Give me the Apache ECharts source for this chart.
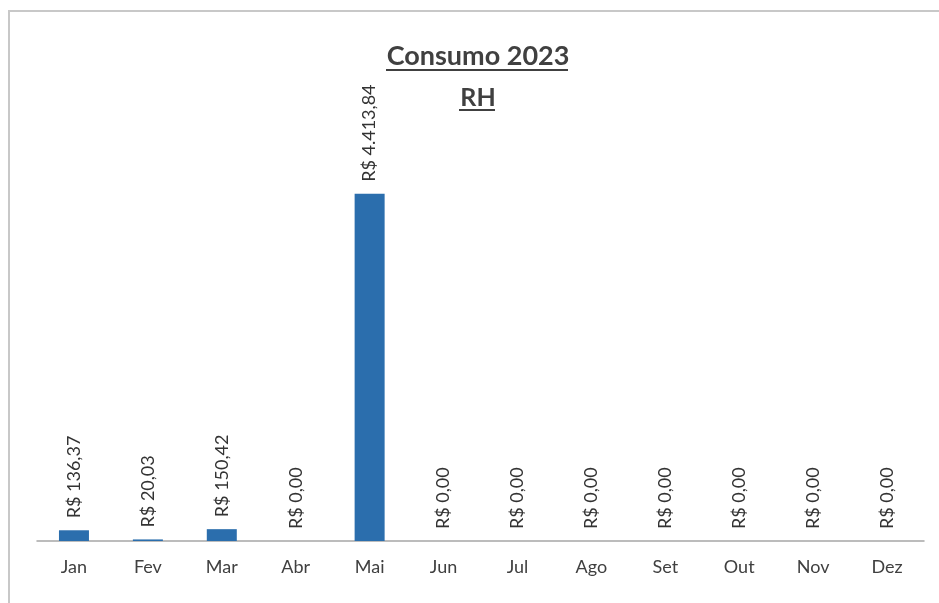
<!DOCTYPE html>
<html>
<head>
<meta charset="utf-8">
<script src="https://cdn.jsdelivr.net/npm/echarts@6/dist/echarts.min.js"></script>
<style>
  html, body { margin: 0; padding: 0; background: #fff; }
  #chart { width: 939px; height: 603px; }
</style>
</head>
<body>
<div id="chart"></div>
<script>
var months = ['Jan', 'Fev', 'Mar', 'Abr', 'Mai', 'Jun', 'Jul', 'Ago', 'Set', 'Out', 'Nov', 'Dez'];
var consumo = [136.37, 20.03, 150.42, 0, 4413.84, 0, 0, 0, 0, 0, 0, 0];

function brl(v) {
    var parts = v.toFixed(2).split('.');
    var inteiro = parts[0].replace(/\B(?=(\d{3})+(?!\d))/g, '.');
    return 'R$ ' + inteiro + ',' + parts[1];
}

(function () {
    var myChart = echarts.init(document.querySelector('#chart'));
    myChart.setOption({
        animation: false,
        title: {
            text: 'Consumo 2023',
            subtext: 'RH',
            left: 473,
            textAlign: 'center',
            top: 38,
            itemGap: 15,
            textStyle: {
                fontFamily: 'Lato',
                fontWeight: 'bold',
                fontSize: 27,
                color: '#404040'
            },
            subtextStyle: {
                fontFamily: 'Lato',
                fontWeight: 'bold',
                fontSize: 25,
                color: '#404040'
            }
        },
        graphic: [
            // moldura do gráfico
            { type: 'polyline', shape: { points: [[9, 603], [9, 11], [939, 11]] },
              style: { stroke: '#c8c8c8', lineWidth: 2, fill: null } },
            // sublinhados do título
            { type: 'line', shape: { x1: 386, y1: 70, x2: 568, y2: 70 },
              style: { stroke: '#404040', lineWidth: 2 } },
            { type: 'line', shape: { x1: 459, y1: 110, x2: 495, y2: 110 },
              style: { stroke: '#404040', lineWidth: 2 } }
        ],
        grid: {
            left: 37,
            right: 15,
            top: 69,
            bottom: 62
        },
        xAxis: {
            type: 'category',
            data: months,
            axisLine: { lineStyle: { color: '#a6a6a6', width: 1.5 } },
            axisTick: { length: 6, lineStyle: { color: '#a6a6a6' } },
            axisLabel: {
                fontFamily: 'Lato',
                fontSize: 18,
                color: '#404040',
                margin: 17
            }
        },
        yAxis: {
            type: 'value',
            min: 0,
            max: 6000,
            show: false,
            splitLine: { show: false }
        },
        series: [{
            type: 'bar',
            data: consumo,
            barWidth: 30,
            itemStyle: { color: '#2b6ead' },
            label: {
                show: true,
                position: 'top',
                rotate: 90,
                align: 'left',
                verticalAlign: 'middle',
                distance: 12,
                fontFamily: 'Lato',
                fontSize: 18,
                color: '#333',
                formatter: function (p) { return brl(p.value); }
            }
        }]
    });
})();
</script>
</body>
</html>
